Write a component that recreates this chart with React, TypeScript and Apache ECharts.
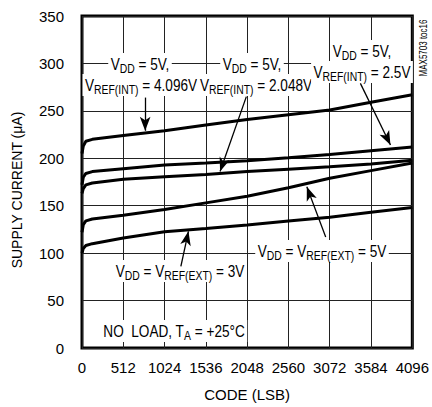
import React, { useEffect, useRef } from "react";
import * as echarts from "echarts";

const codes = [0, 16, 48, 128, 512, 1024, 1536, 2048, 2560, 3072, 3584, 4096];
const int4096 = [205, 213, 218, 220, 224, 229, 235, 241, 246, 251, 259, 267];
const int2500 = [172, 180, 184, 186, 189, 193, 195, 197.5, 200.5, 204, 208, 212];
const int2048 = [163, 168, 172, 174, 178, 180.6, 183, 186, 188.5, 191, 194, 198];
const ext5 = [122, 130, 134, 136, 140, 146, 153, 160, 169, 179, 187, 195];
const ext3 = [100, 105, 108, 110, 116, 122.6, 126, 129.7, 134, 137.8, 143, 148];
const xTicks = [0, 512, 1024, 1536, 2048, 2560, 3072, 3584, 4096];
const yTicks = [0, 50, 100, 150, 200, 250, 300, 350];

// arrows: [fromCode, fromValue, toCode, toValue]
const arrows = [
  [783, 264, 783, 229],
  [2038, 265, 1712, 186],
  [3452, 279, 3825, 214],
  [3022, 117, 2788, 170],
  [1226, 86, 1320, 123],
];

const FONT = "'Liberation Sans', Arial, sans-serif";

export default function App() {
  const ref = useRef<HTMLDivElement>(null);
  useEffect(() => {
    const chart = echarts.init(ref.current!, null, { renderer: "svg" });
    const mk = (d: number[]) => codes.map((c, i) => [c, d[i]]);
    const lineSeries = (name: string, d: number[], extra: any = {}) => ({
      name,
      type: "line",
      data: mk(d),
      showSymbol: false,
      symbol: "none",
      lineStyle: { color: "#000", width: 3 },
      z: 3,
      ...extra,
    });
    const rich = {
      n: { fontSize: 17, fontFamily: FONT, color: "#000" },
      s: { fontSize: 13, fontFamily: FONT, color: "#000", padding: [9, 0, 0, 0] },
    };
    const txt = (x: number, y: number, text: string) => ({
      type: "text",
      x,
      y,
      z: 1,
      scaleX: 0.8,
      style: {
        text,
        rich,
        align: "center",
        verticalAlign: "middle",
        backgroundColor: "#fff",
        padding: [0, 3, 0, 3],
      },
    });
    chart.setOption({
      animation: false,
      grid: {
        left: 82,
        right: 17,
        top: 16,
        bottom: 59,
        show: true,
        borderColor: "#000",
        borderWidth: 3,
      },
      xAxis: {
        type: "value",
        min: 0,
        max: 4096,
        interval: 512,
        name: "CODE (LSB)",
        nameLocation: "middle",
        nameGap: 39,
        nameTextStyle: { fontSize: 15, fontFamily: FONT, color: "#000" },
        axisLine: { show: false },
        axisTick: { show: false },
        axisLabel: {
          fontSize: 15,
          fontFamily: FONT,
          color: "#000",
          margin: 12,
          formatter: (v: number) => (xTicks.includes(v) ? String(v) : ""),
        },
        splitLine: { show: true, lineStyle: { color: "#222", width: 1 } },
      },
      yAxis: {
        type: "value",
        min: 0,
        max: 350,
        interval: 50,
        name: "SUPPLY CURRENT (μA)",
        nameLocation: "middle",
        nameGap: 58,
        nameTextStyle: { fontSize: 14, fontFamily: FONT, color: "#000", padding: [0, 16, 0, 0] },
        axisLine: { show: false },
        axisTick: { show: false },
        axisLabel: {
          fontSize: 15,
          fontFamily: FONT,
          color: "#000",
          margin: 18,
          formatter: (v: number) => (yTicks.includes(v) ? String(v) : ""),
        },
        splitLine: { show: true, lineStyle: { color: "#222", width: 1 } },
      },
      graphic: [
        txt(140, 64, "{n|V}{s|DD}{n| = 5V,}"),
        txt(141, 85, "{n|V}{s|REF(INT)}{n| = 4.096V}"),
        txt(252, 64, "{n|V}{s|DD}{n| = 5V,}"),
        txt(256, 85, "{n|V}{s|REF(INT)}{n| = 2.048V}"),
        txt(362, 51, "{n|V}{s|DD}{n| = 5V,}"),
        txt(362, 72, "{n|V}{s|REF(INT)}{n| = 2.5V}"),
        txt(322, 251, "{n|V}{s|DD}{n| = V}{s|REF(EXT)}{n| = 5V}"),
        txt(180, 271, "{n|V}{s|DD}{n| = V}{s|REF(EXT)}{n| = 3V}"),
        txt(174, 331, "{n|NO  LOAD, T}{s|A}{n| = +25°C}"),
        {
          type: "text",
          x: 424,
          y: 48,
          rotation: Math.PI / 2,
          z: 1,
          scaleX: 0.8,
          style: {
            text: "MAX5703 toc16",
            fontSize: 10,
            fontFamily: FONT,
            fill: "#000",
            align: "center",
            verticalAlign: "middle",
          },
        },
      ],
      series: [
        lineSeries("4.096V", int4096, {
          markLine: {
            silent: true,
            animation: false,
            symbol: ["none", "arrow"],
            symbolSize: [8, 13],
            label: { show: false },
            lineStyle: { color: "#000", width: 1.3, type: "solid" },
            data: arrows.map((a) => [
              { coord: [a[0], a[1]], symbol: "none" },
              { coord: [a[2], a[3]], symbol: "arrow", symbolSize: [8, 14] },
            ]),
          },
        }),
        lineSeries("2.5V", int2500),
        lineSeries("2.048V", int2048),
        lineSeries("ext5", ext5),
        lineSeries("ext3", ext3),
      ],
    });
    return () => chart.dispose();
  }, []);
  return <div ref={ref} style={{ width: 432, height: 407, position: "absolute", left: 0, top: 0 }} />;
}
